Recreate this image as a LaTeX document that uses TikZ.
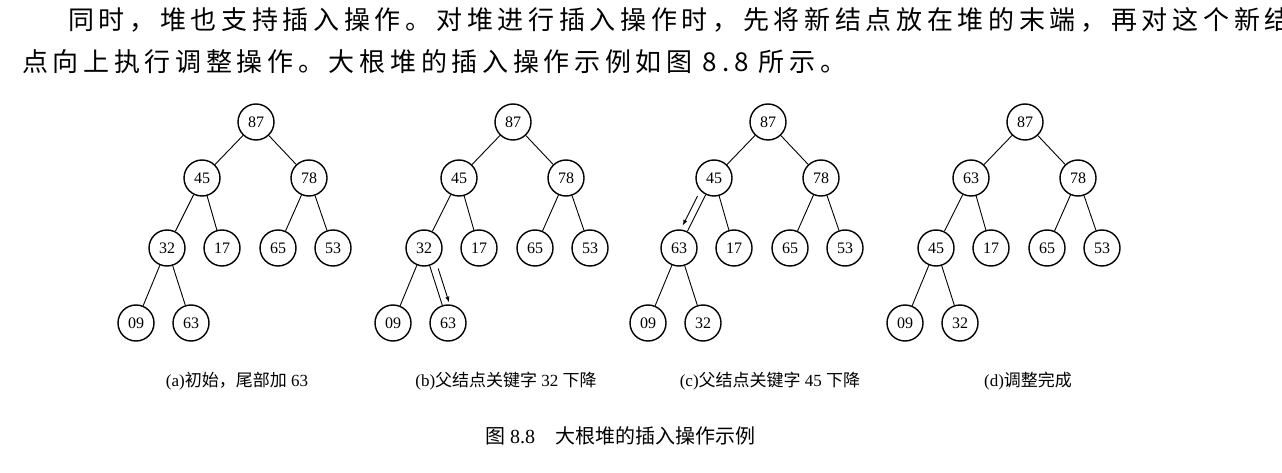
\documentclass[tikz,border=0pt]{standalone}
\usepackage{fontspec}
\usetikzlibrary{calc}
\setmainfont{Liberation Serif}
\newfontfamily\cjk{Noto Sans CJK SC}
\newfontfamily\cjkw[LetterSpace=18]{Noto Sans CJK SC}
\begin{document}
\begin{tikzpicture}[x=1pt,y=-1pt,
  hn/.style={circle,draw,line width=1.4pt,minimum size=36pt,inner sep=0pt,font=\fontsize{16}{16}\selectfont},
  ed/.style={line width=0.9pt},
  mv/.style={line width=0.9pt,-latex},
  captxt/.style={font=\fontsize{17}{17}\selectfont}]
\useasboundingbox (0,0) rectangle (1282,473);
\node[anchor=west,font=\cjkw\fontsize{26}{26}\selectfont,inner sep=0pt] (l1) at (68,20) {同时，堆也支持插入操作。对堆进行插入操作时，先将新结点放在堆的末端，再对这个新结};
\node[anchor=west,font=\cjkw\fontsize{26}{26}\selectfont,inner sep=0pt] (l2) at (22,62) {点向上执行调整操作。大根堆的插入操作示例如图 8.8 所示。};
\foreach \o/\a/\b/\c/\d/\e/\f/\g/\h/\i/\t in {
  0/87/45/78/32/17/65/53/09/63/a,
  257/87/45/78/32/17/65/53/09/63/b,
  512/87/45/78/63/17/65/53/09/32/c,
  769/87/63/78/45/17/65/53/09/32/d}{
  \begin{scope}[xshift=\o]
  \node[hn] (\t1) at (256,122) {\a};
  \node[hn] (\t2) at (202,178) {\b};
  \node[hn] (\t3) at (309,178) {\c};
  \node[hn] (\t4) at (167,248) {\d};
  \node[hn] (\t5) at (222,248) {\e};
  \node[hn] (\t6) at (278,248) {\f};
  \node[hn] (\t7) at (333,248) {\g};
  \node[hn] (\t8) at (136,323) {\h};
  \node[hn] (\t9) at (191,323) {\i};
  \draw[ed] (\t1)--(\t2) (\t1)--(\t3) (\t2)--(\t4) (\t2)--(\t5) (\t3)--(\t6) (\t3)--(\t7) (\t4)--(\t8) (\t4)--(\t9);
  \end{scope}}
\draw[mv] ($(b4)!0.3!(b9)+(7,-2)$) -- ($(b4)!0.75!(b9)+(7,-2)$);
\draw[mv] ($(c2)!0.3!(c4)+(-6,-3)$) -- ($(c2)!0.72!(c4)+(-6,-3)$);
\node[captxt] (ca) at (237,381) {(a)\cjk 初始，尾部加\rmfamily\ 63};
\node[captxt] (cb) at (506,381) {(b)\cjk 父结点关键字\rmfamily\ 32 \cjk 下降};
\node[captxt] (cc) at (770,381) {(c)\cjk 父结点关键字\rmfamily\ 45 \cjk 下降};
\node[captxt] (cd) at (1028,381) {(d)\cjk 调整完成};
\node[font=\fontsize{20}{20}\selectfont] (ti) at (620,436) {\cjk 图\rmfamily\ 8.8\quad\cjk 大根堆的插入操作示例};
\end{tikzpicture}
\end{document}
